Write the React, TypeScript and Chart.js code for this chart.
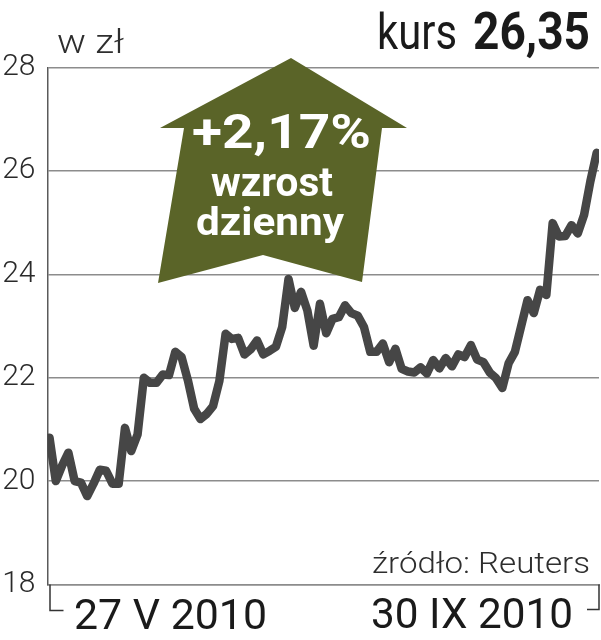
import React, { useEffect, useRef } from "react";
import { Chart, registerables } from "chart.js";

Chart.register(...registerables);

// ---- data ----
const prices: number[] = [
  20.84, 20.0, 20.3, 20.55, 20.0, 19.97, 19.71, 19.95, 20.22, 20.2,
  19.95, 19.95, 21.03, 20.58, 20.9, 22.0, 21.9, 21.9, 22.06, 22.05,
  22.5, 22.4, 21.95, 21.4, 21.2, 21.3, 21.45, 21.93, 22.85, 22.75,
  22.77, 22.45, 22.55, 22.72, 22.45, 22.52, 22.6, 22.98, 23.91, 23.35,
  23.66, 23.3, 22.62, 23.43, 22.86, 23.14, 23.17, 23.4, 23.25, 23.2,
  22.98, 22.5, 22.5, 22.66, 22.3, 22.56, 22.17, 22.12, 22.1, 22.2,
  22.08, 22.34, 22.18, 22.38, 22.22, 22.45, 22.4, 22.63, 22.35, 22.3,
  22.1, 21.99, 21.8, 22.28, 22.5, 23.0, 23.5, 23.25, 23.7, 23.6,
  24.99, 24.73, 24.74, 24.95, 24.79, 25.15, 25.8, 26.35,
];
const tradingDays: number[] = prices.map((_, i) => i);
const dateLabels: string[] = ["27 V 2010", "30 IX 2010"];
const yTicks: number[] = [18, 20, 22, 24, 26, 28];
const unitLabel = "w zł";
const priceLabel = "kurs";
const priceValue = "26,35";
const changeLines: string[] = ["+2,17%", "wzrost", "dzienny"];
const sourceLabel = "źródło: Reuters";

const FONT = "Roboto, 'Liberation Sans', sans-serif";
const ARROW_COLOR = "#5a6428";

function fitText(
  ctx: CanvasRenderingContext2D,
  text: string,
  font: string,
  left: number,
  baseline: number,
  width: number,
  color: string
) {
  ctx.save();
  ctx.font = font;
  ctx.textAlign = "left";
  ctx.textBaseline = "alphabetic";
  const w = ctx.measureText(text).width || 1;
  ctx.translate(left, baseline);
  ctx.scale(width / w, 1);
  ctx.fillStyle = color;
  ctx.fillText(text, 0, 0);
  ctx.restore();
}

const arrowPlugin = {
  id: "arrowPlugin",
  beforeDatasetsDraw(chart: any) {
    const ctx: CanvasRenderingContext2D = chart.ctx;
    const shape: [number, number][] = [
      [160, 128], [291, 58], [407, 128], [382, 128],
      [362, 282], [263, 255], [158, 283], [184, 128],
    ];
    ctx.save();
    ctx.beginPath();
    shape.forEach(([x, y], i) => (i === 0 ? ctx.moveTo(x, y) : ctx.lineTo(x, y)));
    ctx.closePath();
    ctx.fillStyle = ARROW_COLOR;
    ctx.fill();
    ctx.restore();
    fitText(ctx, changeLines[0], `700 49px ${FONT}`, 192, 148, 179, "#ffffff");
    fitText(ctx, changeLines[1], `700 41px ${FONT}`, 211, 196, 122, "#ffffff");
    fitText(ctx, changeLines[2], `700 38px ${FONT}`, 196, 235, 148, "#ffffff");
  },
};

const decorPlugin = {
  id: "decorPlugin",
  afterDraw(chart: any) {
    const ctx: CanvasRenderingContext2D = chart.ctx;
    const { left, right, bottom } = chart.chartArea;
    fitText(ctx, unitLabel, `300 34px ${FONT}`, 57, 53, 67, "#2e2e2e");
    fitText(ctx, priceLabel, `400 50px ${FONT}`, 377, 49, 80, "#1a1a1a");
    fitText(ctx, priceValue, `700 52px ${FONT}`, 473, 49, 117, "#1a1a1a");
    fitText(ctx, sourceLabel, `300 29px ${FONT}`, 372, 573, 218, "#2e2e2e");
    fitText(ctx, dateLabels[0], `400 42px ${FONT}`, 74, 629, 193, "#1a1a1a");
    fitText(ctx, dateLabels[1], `400 42px ${FONT}`, 371, 628, 202, "#1a1a1a");

    ctx.save();
    ctx.strokeStyle = "#333333";
    ctx.lineWidth = 1.5;
    ctx.beginPath();
    ctx.moveTo(left + 2.5, bottom);
    ctx.lineTo(left + 2.5, bottom + 26);
    ctx.lineTo(left + 16, bottom + 26);
    ctx.moveTo(right, bottom);
    ctx.lineTo(right, bottom + 25);
    ctx.lineTo(right - 12, bottom + 25);
    ctx.stroke();
    ctx.restore();
  },
};

export default function App() {
  const canvasRef = useRef<HTMLCanvasElement | null>(null);

  useEffect(() => {
    if (!canvasRef.current) return;
    const chart = new Chart(canvasRef.current, {
      type: "line",
      data: {
        datasets: [
          {
            data: prices.map((v, i) => ({ x: tradingDays[i], y: v })),
            borderColor: "#464646",
            borderWidth: 8.5,
            pointRadius: 0,
            tension: 0,
            borderJoinStyle: "round",
            borderCapStyle: "round",
          },
        ],
      },
      options: {
        animation: false,
        responsive: false,
        events: [],
        layout: { padding: { top: 67.5, right: 2, bottom: 55.5, left: 0 } },
        plugins: {
          legend: { display: false },
          tooltip: { enabled: false },
        },
        scales: {
          x: {
            type: "linear",
            min: -0.32,
            max: tradingDays[tradingDays.length - 1] + 0.37,
            grid: { display: false },
            ticks: { display: false },
            border: { display: true, color: "#8c8c8c", width: 1.5 },
            afterFit: (s: any) => {
              s.height = 0;
            },
          },
          y: {
            min: yTicks[0],
            max: yTicks[yTicks.length - 1],
            afterBuildTicks: (s: any) => {
              s.ticks = yTicks.map((v) => ({ value: v }));
            },
            ticks: {
              padding: 12,
              color: "#2a2a2a",
              font: { family: FONT, size: 30, weight: "300" },
            },
            grid: { color: "#8c8c8c", lineWidth: 1.5, drawTicks: false },
            border: { display: true, color: "#5a5a5a", width: 1.5 },
            afterFit: (s: any) => {
              s.width = 47.5;
            },
          },
        },
      },
      plugins: [arrowPlugin, decorPlugin],
    } as any);
    return () => chart.destroy();
  }, []);

  return (
    <div style={{ position: "absolute", left: 0, top: 0, width: 601, height: 640, background: "#fff" }}>
      <canvas ref={canvasRef} width={601} height={640} />
    </div>
  );
}
